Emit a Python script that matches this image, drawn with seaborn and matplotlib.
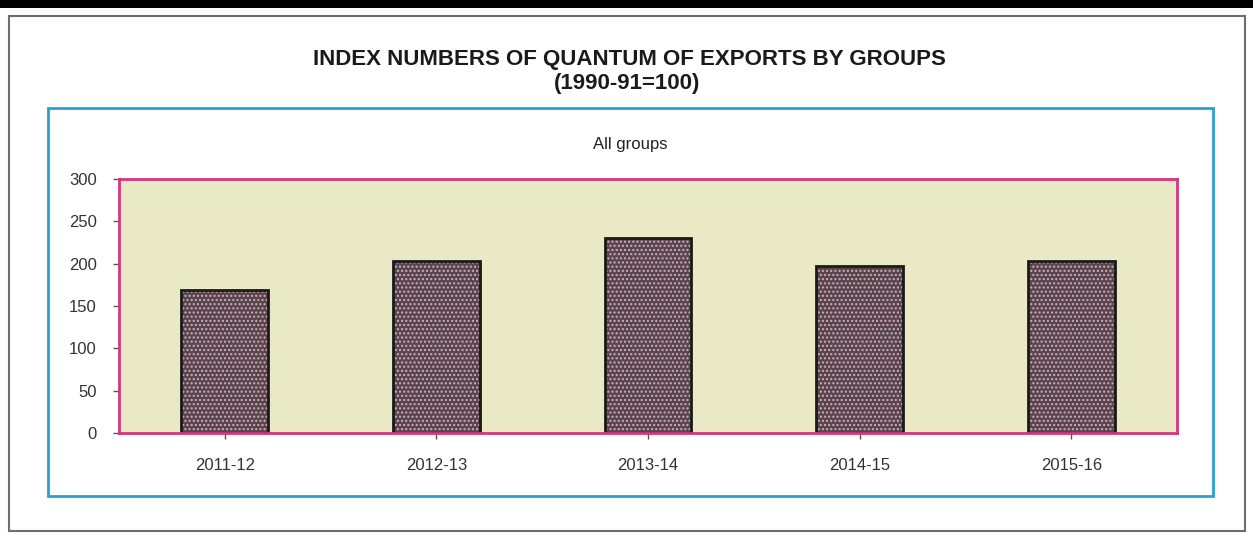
import matplotlib
matplotlib.use("Agg")
import matplotlib.pyplot as plt
from matplotlib.patches import Rectangle
import seaborn as sns
import pandas as pd

# Data
years = ["2011-12", "2012-13", "2013-14", "2014-15", "2015-16"]
index_values = [169, 203, 230, 197, 203]

title = "INDEX NUMBERS OF QUANTUM OF EXPORTS BY GROUPS"
subtitle = "(1990-91=100)"
panel_label = "All groups"

df = pd.DataFrame({"year": years, "value": index_values})

sns.set_theme(style="white")
plt.rcParams["font.family"] = ["Liberation Sans", "DejaVu Sans"]
plt.rcParams["hatch.linewidth"] = 1.0

fig = plt.figure(figsize=(12.53, 5.33), dpi=100)
W, H = 1253, 533

def px_rect(x0, y0, x1, y1, **kw):
    # rectangle given in pixel coords (top-left origin), kept behind the axes
    r = Rectangle((x0 / W, 1 - y1 / H), (x1 - x0) / W, (y1 - y0) / H,
                  transform=fig.transFigure, zorder=-10, **kw)
    fig.patches.append(r)

# page decoration
px_rect(0, 0, W, 8, facecolor="black", edgecolor="none")
px_rect(9, 16, 1245, 531, facecolor="white", edgecolor="#6e6e6e", linewidth=1.5)
px_rect(48, 108, 1213, 496, facecolor="white", edgecolor="#2aa0d8", linewidth=2)

fig.text(629 / W, 1 - 59 / H, title, ha="center", va="center",
         fontsize=16, fontweight="bold", color="#1a1a1a")
fig.text(627 / W, 1 - 83 / H, subtitle, ha="center", va="center",
         fontsize=16, fontweight="bold", color="#1a1a1a")
fig.text(630 / W, 1 - 144 / H, panel_label, ha="center", va="center",
         fontsize=12, color="#222222")

ax = fig.add_axes([119 / W, 1 - 433 / H, (1177 - 119) / W, (433 - 179) / H])
ax.set_facecolor("#e9e9c6")

# base fill
sns.barplot(data=df, x="year", y="value", ax=ax, color="#554650",
            width=0.41, edgecolor="none", saturation=1)
# speckle texture
sns.barplot(data=df, x="year", y="value", ax=ax, color="#554650",
            width=0.41, saturation=1, facecolor="none",
            edgecolor="#dcaab4", linewidth=0, hatch="....")
# outline
sns.barplot(data=df, x="year", y="value", ax=ax, width=0.41,
            facecolor="none", edgecolor="#1a1a1a", linewidth=2)

ax.set_ylim(0, 300)
ax.set_yticks(range(0, 301, 50))
ax.set_xlim(-0.5, 4.5)
ax.set_xlabel("")
ax.set_ylabel("")
for s in ax.spines.values():
    s.set_color("#d6357f")
    s.set_linewidth(2)
ax.tick_params(axis="both", which="both", direction="out", length=4,
               width=1, color="#555555", labelsize=12, labelcolor="#333333",
               left=True, bottom=True)
ax.tick_params(axis="y", pad=12)
ax.tick_params(axis="x", pad=14)

fig.savefig("out.png", dpi=100)
